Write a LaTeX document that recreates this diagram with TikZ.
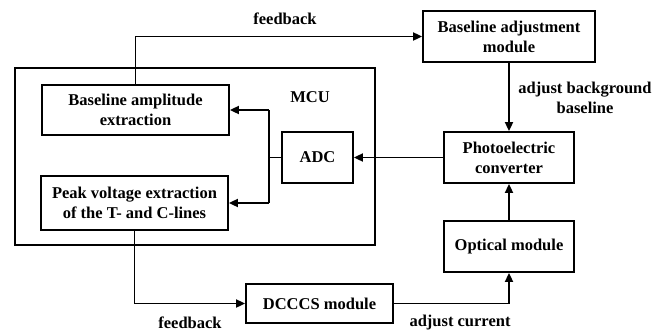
\documentclass[tikz,border=0pt]{standalone}
\usepackage{fontspec}
\setmainfont{Liberation Serif}
\usetikzlibrary{arrows.meta}
\begin{document}
\begin{tikzpicture}[x=1pt,y=-1pt,
  blk/.style={draw,line width=1.8pt,inner sep=0pt,align=center,font=\fontsize{16.5}{20}\selectfont\bfseries},
  lbl/.style={inner sep=0pt,align=center,font=\fontsize{16.5}{20}\selectfont\bfseries},
  conn/.style={line width=1.8pt,-{Triangle[length=9pt,width=8pt]}},
  plain/.style={line width=1.8pt}]
\useasboundingbox (0,0) rectangle (652,333);
\draw[plain] (15,68) rectangle (375,245);
\node[lbl] (mcu) at (310,97) {MCU};
\node[blk,minimum width=187pt,minimum height=50pt] (ba) at (135.5,110) {Baseline amplitude\\extraction};
\node[blk,minimum width=187pt,minimum height=54pt] (pk) at (134.5,203) {Peak voltage extraction\\of the T- and C-lines};
\node[blk,minimum width=71pt,minimum height=51pt] (adc) at (317.5,157.5) {ADC};
\node[blk,minimum width=130pt,minimum height=51pt] (pc) at (509,157.5) {Photoelectric\\converter};
\node[blk,minimum width=172pt,minimum height=51pt] (bam) at (509,36.5) {Baseline adjustment\\module};
\node[blk,minimum width=130pt,minimum height=51pt] (om) at (509,246.5) {Optical module};
\node[blk,minimum width=147pt,minimum height=39pt] (dc) at (319.5,303.5) {DCCCS module};
\coordinate (bt) at (269,110);
\coordinate (bb) at (269,203);
\coordinate (bm) at (269,157.5);
\draw[conn] (ba.north) |- (bam.west);
\draw[conn] (bt) -- (ba.east);
\draw[conn] (bb) -- (pk.east);
\draw[plain] (bt) -- (bb);
\draw[plain] (adc.west) -- (bm);
\draw[conn] (pc.west) -- (adc.east);
\draw[conn] (bam.south) -- (pc.north);
\draw[conn] (om.north) -- (pc.south);
\draw[conn] (pk.south) |- (dc.west);
\draw[conn] (dc.east) -| (om.south);
\node[lbl] (fb1) at (285,19) {feedback};
\node[lbl] (abb) at (585,98) {adjust background\\baseline};
\node[lbl] (fb2) at (190,323) {feedback};
\node[lbl] (ac) at (460,323) {adjust current};
\end{tikzpicture}
\end{document}
